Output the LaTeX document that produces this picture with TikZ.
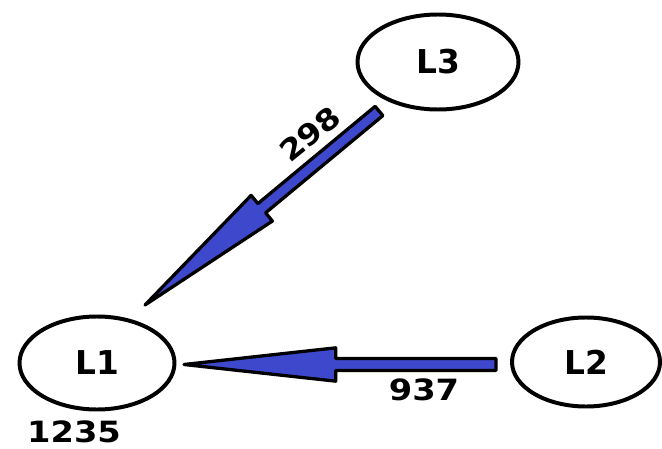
\documentclass[tikz,border=0pt]{standalone}
\usepackage{fontspec}
\setmainfont{DejaVu Sans}
\usetikzlibrary{shapes.geometric,calc}
\definecolor{flowblue}{RGB}{62,72,204}
% wide arrow with a long head, from #1 to #2
\newcommand\fatarrow[2]{%
\coordinate (#1#2b) at ($(#2)!4.55cm!(#1)$);
\draw[flow] ($(#1)!0.18cm!90:(#2)$) -- ($(#1#2b)!0.18cm!90:(#2)$) -- ($(#1#2b)!0.5cm!90:(#2)$) -- (#2)
 -- ($(#1#2b)!0.5cm!-90:(#2)$) -- ($(#1#2b)!0.18cm!-90:(#2)$) -- ($(#1)!0.18cm!-90:(#2)$) -- cycle;}
\begin{document}
\begin{tikzpicture}[x=0.03cm,y=-0.03cm,line join=round,
 state/.style={ellipse,draw,line width=3.4pt,inner sep=0pt,font=\bfseries\fontsize{28}{28}\selectfont},
 flow/.style={draw=black,fill=flowblue,line width=2.8pt},
 count/.style={font=\bfseries\fontsize{25}{25}\selectfont,inner sep=0pt}]
\useasboundingbox (0,0) rectangle (662,449);
\node[state,minimum width=4.65cm,minimum height=2.79cm] (L1) at (97,363) {L1};
\node[state,minimum width=4.44cm,minimum height=2.67cm] (L2) at (586,362) {L2};
\node[state,minimum width=4.83cm,minimum height=2.85cm] (L3) at (438,62) {L3};
\coordinate (s2) at (496,364.5);
\coordinate (e2) at (184,364.5);
\coordinate (s3) at (379,111);
\coordinate (e3) at (145,305);
\fatarrow{s2}{e2}
\fatarrow{s3}{e3}
\node[count,xscale=1.15] (n937) at (424,390) {937};
\node[count,xscale=1.15] (n1235) at (74,432) {1235};
\node[count,rotate=39,xscale=1.12] (n298) at (310,134) {298};
\end{tikzpicture}
\end{document}
